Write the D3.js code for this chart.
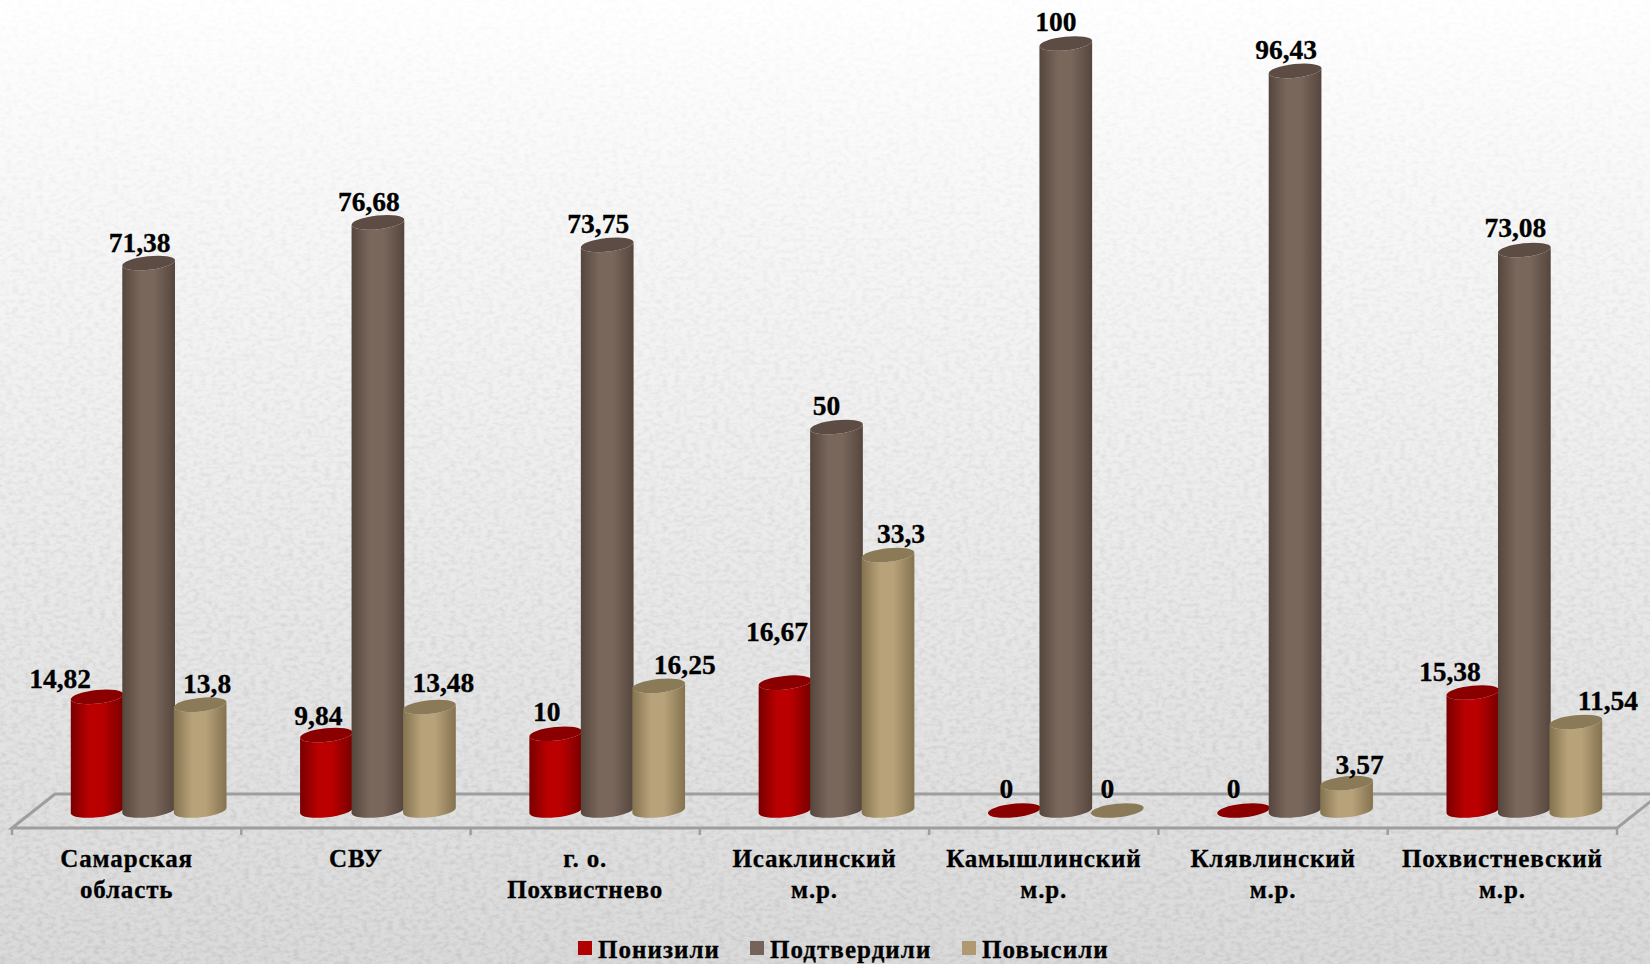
<!DOCTYPE html>
<html><head><meta charset="utf-8">
<script src="https://cdn.jsdelivr.net/npm/d3@7"></script>
<style>html,body{margin:0;padding:0;background:#e4e4e4;overflow:hidden}svg{display:block}text{font-family:"Liberation Serif",serif;font-weight:bold;fill:#000;stroke:#000;stroke-width:.3px}</style>
</head><body><div id="chart"></div>
<script>
const categories=[["Самарская","область"],["СВУ"],["г. о.","Похвистнево"],["Исаклинский","м.р."],["Камышлинский","м.р."],["Клявлинский","м.р."],["Похвистневский","м.р."]];
const seriesNames=["Понизили","Подтвердили","Повысили"];
const ponizili=[14.82,9.84,10,16.67,0,0,15.38];
const podtverdili=[71.38,76.68,73.75,50,100,96.43,73.08];
const povysili=[13.8,13.48,16.25,33.3,0,3.57,11.54];
const labelTexts=[["14,82","9,84","10","16,67","0","0","15,38"],["71,38","76,68","73,75","50","100","96,43","73,08"],["13,8","13,48","16,25","33,3","0","3,57","11,54"]];
// manual data-label nudges, as placed in the original slide
const labelDx=[[-37,-8,-9,-8,-8,-10,-23],[-9,-9,-9,-10,-10,-9,-9],[7,14,26,13,-10,13,32]];
const labelDy=[[-18,-20,-22,-51,-22,-22,-21],[-21,-21,-21,-22,-22,-21,-22],[-21,-25,-21,-22,-22,-19,-21]];
const palette=[{edge:"#780000",mid:"#ba0000",top:"#8a0000"},{edge:"#55463d",mid:"#7a675c",top:"#5c4c43"},{edge:"#84734f",mid:"#b8a27a",top:"#8a7a57"}];
const legendColors=["#b00000","#75635a","#b09870"];

const W=1650,H=964;
const svg=d3.select("#chart").append("svg").attr("width",W).attr("height",H);
const defs=svg.append("defs");
const bg=defs.append("linearGradient").attr("id","bg").attr("x1",0).attr("x2",0).attr("y1",0).attr("y2",1);
bg.append("stop").attr("offset",0).attr("stop-color","#ffffff");
bg.append("stop").attr("offset",.45).attr("stop-color","#efefef");
bg.append("stop").attr("offset",1).attr("stop-color","#dadada");
const noise=defs.append("filter").attr("id","noise").attr("x",0).attr("y",0).attr("width","100%").attr("height","100%");
noise.append("feTurbulence").attr("type","fractalNoise").attr("baseFrequency","0.16 0.26").attr("numOctaves",3).attr("seed",4);
noise.append("feColorMatrix").attr("values","0 0 0 0 0.4  0 0 0 0 0.4  0 0 0 0 0.4  2.2 0 0 0 -0.9");
const fade=defs.append("linearGradient").attr("id","fade").attr("x1",0).attr("x2",0).attr("y1",0).attr("y2",1);
fade.append("stop").attr("offset",0).attr("stop-color","#fff").attr("stop-opacity",.05);
fade.append("stop").attr("offset",1).attr("stop-color","#fff").attr("stop-opacity",.38);
defs.append("mask").attr("id","noiseMask").attr("maskUnits","userSpaceOnUse").attr("x",0).attr("y",0).attr("width",W).attr("height",H)
  .append("rect").attr("width",W).attr("height",H).attr("fill","url(#fade)");
palette.forEach((p,i)=>{
  const g=defs.append("linearGradient").attr("id","cyl"+i);
  [[0,p.edge],[.35,p.mid],[.6,p.mid],[1,p.edge]].forEach(s=>g.append("stop").attr("offset",s[0]).attr("stop-color",s[1]));
});
svg.append("rect").attr("width",W).attr("height",H).attr("fill","url(#bg)");
svg.append("g").attr("mask","url(#noiseMask)").append("rect").attr("width",W).attr("height",H).attr("filter","url(#noise)");

const x=d3.scaleBand().domain(d3.range(categories.length)).range([12,1617]);
const y=d3.scaleLinear().domain([0,100]).range([810.5,43.5]);
const floorY=828,backY=794,depth=43;
const grey="#9e9e9e";
const floor=svg.append("g").attr("fill","none").attr("stroke",grey).attr("stroke-width",3);
floor.append("path").attr("d",`M${x.range()[0]},${floorY}L${x.range()[0]+depth},${backY}H${x.range()[1]+depth}L${x.range()[1]},${floorY}Z`);
floor.selectAll("line").data(d3.range(categories.length+1)).join("line")
  .attr("x1",i=>i<categories.length?x(i):x.range()[1]).attr("x2",i=>i<categories.length?x(i):x.range()[1])
  .attr("y1",floorY).attr("y2",floorY+7).attr("stroke-width",2.5);

const series=[ponizili,podtverdili,povysili];
const rx=26.5,ry=6.8,tilt=-6,rad=tilt*Math.PI/180,dxE=rx*Math.cos(rad),dyE=rx*Math.sin(rad);
const cx=(i,j)=>x(i)+x.bandwidth()/2+22+(j-1)*51.5;
series.forEach((vals,j)=>{
  const g=svg.append("g").attr("class","series"+j);
  vals.forEach((v,i)=>{
    const c=cx(i,j),yb=y(0),yt=y(v);
    if(v>0){
      g.append("path").attr("fill",`url(#cyl${j})`)
       .attr("d",`M${c-dxE},${yt-dyE}L${c-dxE},${yb-dyE}A${rx},${ry} ${tilt} 0 0 ${c+dxE},${yb+dyE}L${c+dxE},${yt+dyE}A${rx},${ry} ${tilt} 0 1 ${c-dxE},${yt-dyE}Z`);
    }
    g.append("ellipse").attr("cx",c).attr("cy",yt).attr("rx",rx).attr("ry",ry)
     .attr("transform",`rotate(${tilt} ${c} ${yt})`).attr("fill",palette[j].top);
  });
});
series.forEach((vals,j)=>{
  svg.append("g").selectAll("text").data(vals).join("text")
    .attr("x",(v,i)=>cx(i,j)+labelDx[j][i]).attr("y",(v,i)=>y(v)+labelDy[j][i])
    .attr("text-anchor","middle").attr("dominant-baseline","central").attr("font-size",27.5)
    .text((v,i)=>labelTexts[j][i]);
});
categories.forEach((lines,i)=>{
  const t=svg.append("text").attr("text-anchor","middle").attr("font-size",25).style("letter-spacing","0.85px");
  lines.forEach((l,k)=>t.append("tspan").attr("x",x(i)+x.bandwidth()/2).attr("y",867+k*31).text(l));
});
const legendX=[578,750,962];
const leg=svg.append("g").selectAll("g").data(seriesNames).join("g").attr("transform",(d,i)=>`translate(${legendX[i]},0)`);
leg.append("rect").attr("y",941).attr("width",14).attr("height",14).attr("fill",(d,i)=>legendColors[i]);
leg.append("text").attr("x",20).attr("y",958).attr("font-size",25).style("letter-spacing","1.05px").text(d=>d);
</script></body></html>
